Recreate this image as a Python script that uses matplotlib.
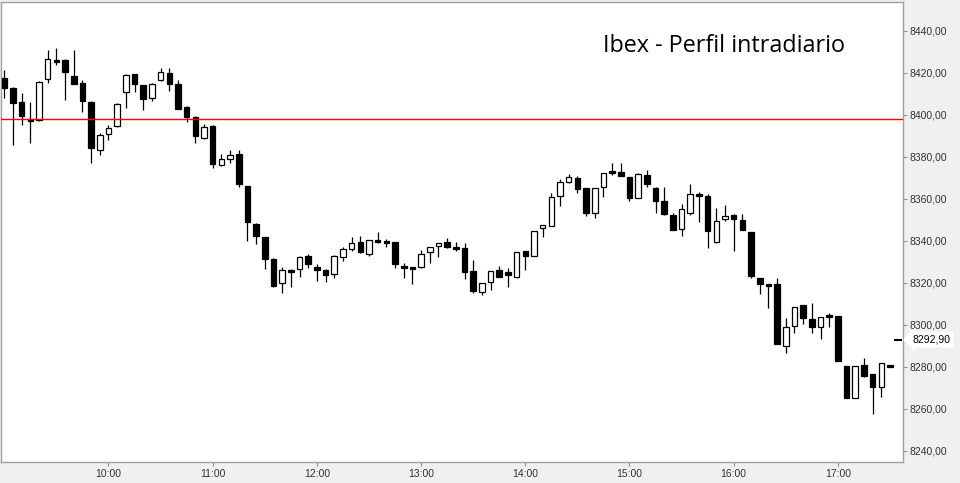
import matplotlib
matplotlib.use('Agg')
import matplotlib.pyplot as plt
import matplotlib.dates as mdates
import matplotlib.transforms as mtransforms
import numpy as np
import pandas as pd

# velas de 5 minutos (apertura, máximo, mínimo, cierre)
opens = [8417.3, 8412.6, 8406.0, 8398.0, 8397.3, 8416.9, 8426.0, 8426.0, 8418.4, 8415.1,
         8406.0, 8383.0, 8390.7, 8394.5, 8410.7, 8419.4, 8414.0, 8407.8, 8416.4, 8419.7,
         8414.5, 8403.5, 8398.8, 8388.8, 8394.5, 8375.9, 8378.8, 8381.3, 8366.0, 8348.0,
         8341.8, 8331.4, 8320.0, 8326.0, 8326.4, 8332.7, 8327.5, 8325.9, 8324.0, 8332.1,
         8336.2, 8339.2, 8333.8, 8340.3, 8340.0, 8339.4, 8328.0, 8327.5, 8327.6, 8334.5,
         8337.3, 8339.2, 8337.0, 8336.4, 8325.6, 8315.4, 8320.2, 8326.0, 8324.9, 8322.9,
         8335.1, 8332.9, 8345.9, 8347.1, 8361.4, 8368.1, 8369.9, 8365.1, 8353.3, 8365.7,
         8373.2, 8372.7, 8370.2, 8360.5, 8371.1, 8365.1, 8358.9, 8352.2, 8345.4, 8353.0,
         8362.2, 8361.3, 8339.2, 8350.2, 8352.2, 8349.9, 8344.1, 8322.2, 8319.4, 8319.4,
         8289.9, 8299.4, 8309.4, 8302.6, 8298.8, 8304.5, 8304.1, 8280.3, 8265.2, 8280.7,
         8276.4, 8270.2, 8280.6]
highs = [8421.3, 8413.0, 8410.5, 8406.2, 8416.0, 8430.8, 8431.8, 8426.7, 8430.8, 8416.5,
         8406.5, 8391.1, 8395.1, 8405.7, 8419.2, 8419.6, 8414.2, 8415.1, 8422.2, 8422.2,
         8416.5, 8404.0, 8399.4, 8395.4, 8395.1, 8381.1, 8383.2, 8383.2, 8366.2, 8348.2,
         8342.0, 8331.9, 8327.5, 8326.4, 8332.7, 8333.7, 8328.9, 8326.5, 8333.2, 8337.1,
         8341.9, 8342.2, 8340.4, 8344.1, 8340.7, 8339.6, 8329.2, 8327.7, 8335.6, 8337.0,
         8339.0, 8341.1, 8339.5, 8338.8, 8330.8, 8320.0, 8325.6, 8328.0, 8327.0, 8334.7,
         8335.3, 8344.8, 8347.5, 8362.6, 8369.2, 8371.8, 8370.8, 8365.3, 8365.3, 8372.4,
         8376.9, 8376.9, 8370.4, 8372.1, 8373.7, 8365.7, 8365.7, 8353.0, 8357.5, 8367.0,
         8363.2, 8362.2, 8355.7, 8357.1, 8352.7, 8352.7, 8344.3, 8322.4, 8319.6, 8322.1,
         8303.0, 8308.5, 8309.6, 8310.2, 8303.7, 8305.4, 8304.3, 8280.5, 8280.5, 8284.0,
         8276.6, 8281.8, 8280.6]
lows = [8408.1, 8385.6, 8395.2, 8386.7, 8397.0, 8415.2, 8423.7, 8407.0, 8414.5, 8401.4,
        8376.9, 8380.8, 8388.0, 8394.3, 8403.3, 8411.0, 8402.4, 8406.7, 8415.9, 8411.4,
        8402.7, 8396.4, 8386.4, 8388.6, 8374.5, 8375.7, 8377.1, 8365.7, 8340.0, 8338.4,
        8326.4, 8317.8, 8315.2, 8317.8, 8322.9, 8327.1, 8321.0, 8320.5, 8322.4, 8330.5,
        8335.2, 8334.3, 8332.9, 8339.0, 8336.9, 8327.1, 8322.4, 8319.2, 8327.1, 8329.2,
        8332.1, 8336.7, 8335.2, 8321.9, 8315.2, 8314.1, 8316.7, 8322.5, 8318.1, 8322.4,
        8326.0, 8332.7, 8341.9, 8346.9, 8356.7, 8367.3, 8362.9, 8351.9, 8351.0, 8361.0,
        8371.4, 8370.8, 8359.0, 8360.3, 8365.7, 8353.0, 8352.4, 8344.9, 8342.4, 8352.2,
        8349.0, 8336.7, 8339.0, 8349.5, 8335.2, 8344.9, 8322.4, 8314.8, 8308.1, 8290.8,
        8286.4, 8295.9, 8300.2, 8296.2, 8293.3, 8299.0, 8282.7, 8265.0, 8265.0, 8274.9,
        8257.3, 8265.7, 8280.0]
closes = [8412.9, 8405.4, 8399.5, 8397.1, 8415.6, 8426.4, 8425.2, 8420.5, 8414.8, 8406.7,
          8384.3, 8390.2, 8393.5, 8405.1, 8418.8, 8414.5, 8407.6, 8414.5, 8420.2, 8414.8,
          8402.9, 8399.0, 8390.0, 8394.0, 8376.4, 8378.8, 8380.7, 8366.9, 8349.0, 8342.4,
          8331.1, 8318.6, 8325.9, 8325.2, 8332.2, 8328.8, 8325.9, 8323.5, 8332.7, 8336.0,
          8338.8, 8334.8, 8340.2, 8339.5, 8339.0, 8328.8, 8327.1, 8326.7, 8333.7, 8336.9,
          8338.8, 8336.9, 8336.0, 8325.2, 8316.2, 8319.9, 8325.4, 8322.9, 8323.5, 8334.5,
          8332.9, 8344.6, 8347.3, 8360.7, 8367.8, 8370.2, 8364.8, 8353.3, 8365.1, 8372.2,
          8372.2, 8371.0, 8360.5, 8371.8, 8366.9, 8359.0, 8352.6, 8345.1, 8355.0, 8362.1,
          8361.4, 8344.8, 8349.2, 8351.6, 8350.5, 8345.1, 8323.2, 8319.5, 8318.4, 8291.0,
          8298.8, 8308.3, 8303.0, 8299.0, 8303.5, 8303.5, 8282.9, 8265.2, 8280.3, 8275.7,
          8270.2, 8281.6, 8280.0]

prev_close = 8398.2
last_price = 8292.90
titulo = 'Ibex - Perfil intradiario'

opens = np.array(opens)
closes = np.array(closes)
times = pd.date_range('2015-01-02 09:00', periods=len(opens), freq='5min')
x = mdates.date2num(times)
minuto = 1 / 1440.0

fig = plt.figure(figsize=(9.6, 4.83), dpi=100, facecolor='#f0f0f0')
ax = fig.add_axes([0.00104, 0.04348, 0.9396, 0.9524])
ax.set_facecolor('white')

# mechas y cuerpos
ax.vlines(x, lows, highs, color='black', lw=0.9, zorder=2)
sube = closes >= opens
bottoms = np.minimum(opens, closes)
heights = np.maximum(np.abs(closes - opens), 0.9)
ax.bar(x, heights, width=3.2 * minuto, bottom=bottoms,
       color=np.where(sube, 'white', 'black'), edgecolor='black', lw=0.9, zorder=3)

ax.axhline(prev_close, color='#ff0000', lw=1.0, zorder=4)

t0 = x[0]
ax.set_xlim(t0 - 1.9 * minuto, t0 + 517.5 * minuto)
ax.set_ylim(8234.6, 8453.7)

ax.xaxis.set_major_locator(mdates.HourLocator(byhour=range(10, 18)))
ax.xaxis.set_major_formatter(mdates.DateFormatter('%H:%M'))
ax.yaxis.tick_right()
ax.set_yticks(np.arange(8240, 8441, 20))
ax.yaxis.set_major_formatter(plt.FuncFormatter(lambda v, p: f'{v:.2f}'.replace('.', ',')))

for lab in ax.get_xticklabels() + ax.get_yticklabels():
    lab.set_family('Liberation Sans')
    lab.set_fontsize(7.5)
    lab.set_color('#333333')
ax.tick_params(axis='both', direction='out', length=3, width=0.8, color='#909090', pad=2)

for s in ax.spines.values():
    s.set_color('#a0a0a0')
    s.set_linewidth(1)

# último precio
trans = mtransforms.blended_transform_factory(ax.transAxes, ax.transData)
ax.plot([0.991, 0.998], [last_price, last_price], color='black', lw=1.5,
        transform=trans, zorder=5)
ax.text(1.010, last_price, f'{last_price:.2f}'.replace('.', ','), transform=trans,
        ha='left', va='center', fontsize=7.5, family='Liberation Sans', color='black',
        bbox=dict(boxstyle='larrow,pad=0.3', fc='white', ec='none'), clip_on=False)

fig.text(0.628, 1 - 51.7 / 483, titulo, family='Open Sans', fontsize=16.8,
         ha='left', va='baseline', color='black')

plt.savefig('out.png', dpi=100, facecolor=fig.get_facecolor())
